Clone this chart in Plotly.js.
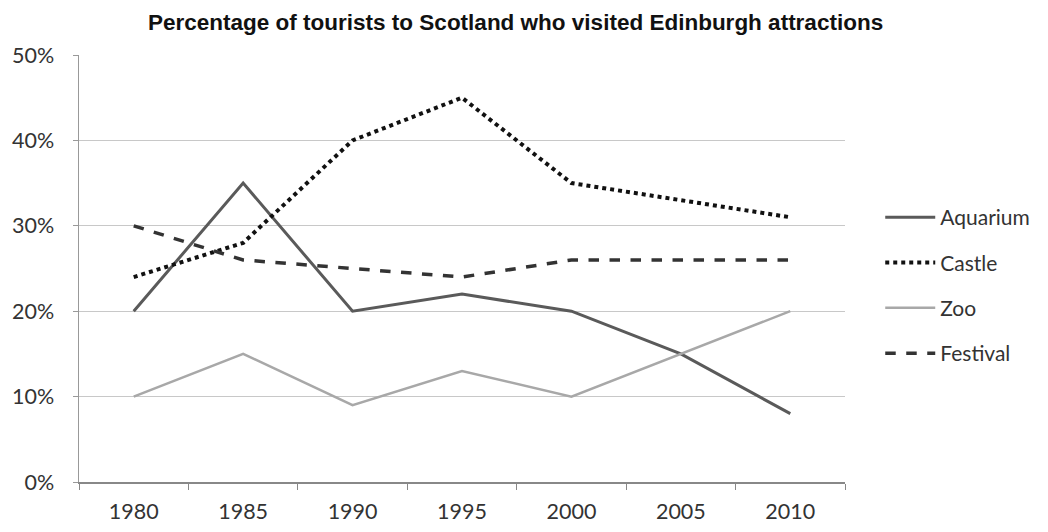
<!DOCTYPE html>
<html>
<head>
<meta charset="utf-8">
<script src="https://cdn.plot.ly/plotly-3.0.1.min.js"></script>
<style>html,body{margin:0;padding:0;background:#fff;}#chart{width:1048px;height:532px;}</style>
</head>
<body>
<div id="chart"></div>
<script>
const years = ['1980', '1985', '1990', '1995', '2000', '2005', '2010'];
const aquarium = [0.20, 0.35, 0.20, 0.22, 0.20, 0.15, 0.08];
const castle = [0.24, 0.28, 0.40, 0.45, 0.35, 0.33, 0.31];
const zoo = [0.10, 0.15, 0.09, 0.13, 0.10, 0.15, 0.20];
const festival = [0.30, 0.26, 0.25, 0.24, 0.26, 0.26, 0.26];
const yTicks = [0, 0.1, 0.2, 0.3, 0.4, 0.5];
const yTickText = ['0%', '10%', '20%', '30%', '40%', '50%'];

const tickFont = {family: 'Lato, "Open Sans", sans-serif', size: 21.5, color: '#333'};

const traces = [
  {name: 'Aquarium', y: aquarium, line: {color: '#5a5a5a', width: 3, dash: 'solid'}},
  {name: 'Castle', y: castle, line: {color: '#111', width: 4, dash: 'dot'}},
  {name: 'Zoo', y: zoo, line: {color: '#a8a8a8', width: 2.5, dash: 'solid'}},
  {name: 'Festival', y: festival, line: {color: '#333', width: 3.5, dash: 'dash'}}
].map(t => Object.assign({x: years, type: 'scatter', mode: 'lines', legendgroup: t.name}, t));

const layout = {
  width: 1048, height: 532,
  margin: {l: 79, r: 203, t: 55, b: 50},
  paper_bgcolor: '#fff', plot_bgcolor: '#fff',
  title: {
    text: '<b>Percentage of tourists to Scotland who visited Edinburgh attractions</b>',
    font: {family: '"Liberation Sans Narrow", "Arial Narrow", "Liberation Sans", Arial, sans-serif', size: 22.5, color: '#111'},
    x: 0.492, xanchor: 'center', y: 0.958, yanchor: 'middle'
  },
  xaxis: {
    type: 'category', range: [-0.5, 6.5],
    tickson: 'boundaries', ticks: 'outside', ticklen: 6, tickcolor: '#888',
    showline: true, linecolor: '#888', linewidth: 1.5,
    showgrid: false, tickfont: tickFont, ticklabelstandoff: 10, fixedrange: true
  },
  yaxis: {
    range: [0, 0.5], tickvals: yTicks, ticktext: yTickText,
    ticks: 'outside', ticklen: 5, tickcolor: '#999',
    showline: true, linecolor: '#999', linewidth: 1.5,
    showgrid: true, gridcolor: '#c8c8c8', gridwidth: 1,
    zeroline: false, tickfont: tickFont, ticklabelstandoff: 14, fixedrange: true
  },
  legend: {
    x: 1.046, xanchor: 'left', y: 0.46, yanchor: 'middle',
    font: {family: 'Lato, "Open Sans", sans-serif', size: 21, color: '#333'},
    traceorder: 'grouped', tracegroupgap: 15, itemwidth: 50,
    bgcolor: 'rgba(0,0,0,0)'
  },
  showlegend: true
};

Plotly.newPlot('chart', traces, layout, {displayModeBar: false, staticPlot: true});
</script>
</body>
</html>
